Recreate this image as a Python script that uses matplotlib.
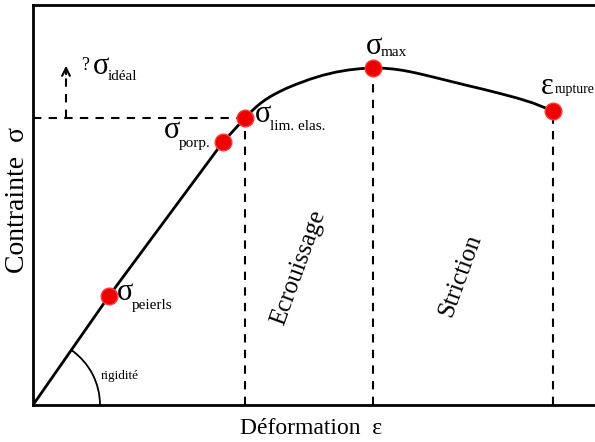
import matplotlib
matplotlib.use("Agg")
import matplotlib.pyplot as plt
from matplotlib.patches import Arc
import numpy as np

plt.rcParams['font.family'] = ['Liberation Serif', 'DejaVu Serif']

# Curve (strain, stress), arbitrary units
curve_x = [0, 76, 190, 212, 217, 222, 227, 232, 237, 242, 247, 252, 258, 264, 277, 290,
           303, 316, 328, 340, 350, 360, 370, 380, 390, 400, 417, 434, 450, 467, 484, 500, 520]
curve_y = [0, 109, 263, 287, 292.2, 297, 301.3, 305, 308.2, 311, 313.6, 316, 318.6, 321,
           325.8, 329.8, 332.9, 335.1, 336.4, 337, 336.8, 336, 334.6, 332.7, 330.4, 328,
           323.8, 319.6, 315.8, 311.5, 307, 302, 294]

# Key points
pt_names = ['peierls', 'porp.', 'lim. elas.', 'max', 'rupture']
pt_x = [76, 190, 212, 340, 520]
pt_y = [109, 263, 287, 337, 294]

fig = plt.figure(figsize=(5.95, 4.42), dpi=100)
ax = fig.add_axes([33/595, 37/442, 562/595, 400/442])
ax.set_xlim(0, 562)
ax.set_ylim(0, 400)
ax.spines['right'].set_visible(False)
for s in ['left', 'bottom', 'top']:
    ax.spines[s].set_linewidth(2)
ax.set_xticks([])
ax.set_yticks([])

ax.plot(curve_x, curve_y, color='black', lw=2, zorder=2, solid_joinstyle='round')

# dashed guides
lim_x, lim_y = pt_x[2], pt_y[2]
ax.plot([0, lim_x], [lim_y, lim_y], ls=(0, (4, 3.5)), color='black', lw=1.5, zorder=1)
for xx, yy in zip(pt_x[2:], pt_y[2:]):
    ax.plot([xx, xx], [0, yy], ls=(0, (4, 3.5)), color='black', lw=1.5, zorder=1)

# ideal arrow
ax.plot([33, 33], [lim_y, 336], ls=(0, (4, 3.5)), color='black', lw=1.5)
ax.annotate('', xy=(33, 342), xytext=(33, 328),
            arrowprops=dict(arrowstyle='->', color='black', lw=1.5, mutation_scale=14))

ax.plot(pt_x, pt_y, 'o', color='#ee0000', markersize=12, zorder=3,
        markeredgecolor='#ff3a3a', markeredgewidth=1)

def lab(x, y, sym, sub, dx=14, dy=-7, big=22, small=11):
    ax.text(x, y, sym, fontsize=big, ha='left', va='center')
    ax.text(x + dx, y + dy, sub, fontsize=small, ha='left', va='center')

# labels in data coords (px - 33, 405 - py)
lab(84, 112, 'σ', 'peierls', dx=15, dy=-12)
lab(131, 274, 'σ', 'porp.', dx=15, dy=-12)
lab(222, 290, 'σ', 'lim. elas.', dx=15, dy=-11)
lab(333, 359, 'σ', 'max', dx=15, dy=-7)
lab(508, 319, 'ε', 'rupture', dx=14, dy=-3, small=10)
ax.text(48, 340, '?', fontsize=13, ha='left', va='center')
lab(60, 339, 'σ', 'idéal', dx=15, dy=-10)

# rigidity arc
ang = np.degrees(np.arctan2(109, 76))
ax.add_patch(Arc((0, 0), 134, 134, theta1=0, theta2=ang, color='black', lw=1.3))
ax.text(68, 29, 'rigidité', fontsize=9.5, ha='left', va='center')

ax.text(266, 137, 'Ecrouissage', fontsize=18, rotation=70, ha='center', va='center')
ax.text(427, 130, 'Striction', fontsize=18, rotation=70, ha='center', va='center')

fig.text(311/595, 1 - 428/442, 'Déformation  ε', fontsize=17, ha='center', va='center')
fig.text(18/595, 1 - 200/442, 'Contrainte  σ', fontsize=20, rotation=90, ha='center', va='center')

fig.savefig('out.png', dpi=100)
